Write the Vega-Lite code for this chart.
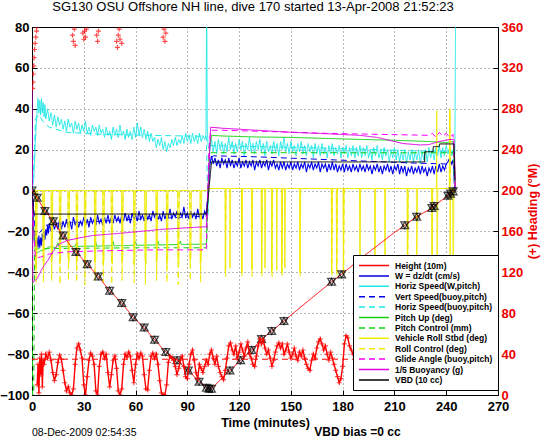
{
"$schema":"https://vega.github.io/schema/vega-lite/v6.json",
"width":466,"height":368,
"autosize":"none",
"padding":{"left":32,"top":27,"right":48,"bottom":47},
"background":"white",
"title":{"text":"SG130 OSU Offshore NH line, dive 170 started 13-Apr-2008 21:52:23","fontSize":13,"fontWeight":"normal","font":"Liberation Sans","offset":7,"dx":-12,"frame":"group","anchor":"middle","color":"black"},
"config":{
 "view":{"stroke":"black","strokeWidth":1},
 "font":"Liberation Sans",
 "axis":{"labelFont":"Liberation Sans","labelFontSize":13,"labelFontWeight":"bold","labelColor":"black","domainColor":"black","tickColor":"black","tickSize":-5,"gridColor":"black","gridDash":[1,3],"gridOpacity":0.7,"gridWidth":0.8,"titleFont":"Liberation Sans","titleFontSize":12.5,"titleFontWeight":"bold","titleColor":"black","labelOverlap":false,"labelFlush":false}
},
"datasets":{
"H":[{"t":0,"v":0},{"t":1,"v":-1},{"t":3,"v":-3.5},{"t":5,"v":-6.5},{"t":7.5,"v":-10},{"t":10,"v":-12.5},{"t":12.3,"v":-15},{"t":15,"v":-18.5},{"t":18,"v":-22},{"t":21,"v":-25.5},{"t":25.5,"v":-30},{"t":32,"v":-36},{"t":38.4,"v":-42},{"t":45,"v":-49},{"t":52,"v":-55},{"t":58.6,"v":-62},{"t":65,"v":-67},{"t":71,"v":-73},{"t":77.5,"v":-79},{"t":84,"v":-83},{"t":90.6,"v":-88},{"t":96.8,"v":-93.5},{"t":100,"v":-95.5},{"t":102,"v":-97},{"t":104,"v":-97},{"t":108,"v":-93.5},{"t":114.7,"v":-88},{"t":120.9,"v":-83},{"t":127.3,"v":-78},{"t":133,"v":-72.6},{"t":138.9,"v":-68.7},{"t":146,"v":-63.8},{"t":160,"v":-54},{"t":173.6,"v":-44.6},{"t":179.4,"v":-41},{"t":190,"v":-33.5},{"t":200,"v":-27},{"t":210,"v":-20.5},{"t":216,"v":-17},{"t":222.9,"v":-12.8},{"t":231.7,"v":-8.5},{"t":234,"v":-6.8},{"t":241,"v":-2.5},{"t":244.5,"v":0}],
"Hm":[{"t":0,"v":0},{"t":3,"v":-3.5},{"t":7.5,"v":-10},{"t":12.3,"v":-15},{"t":18,"v":-22},{"t":25.5,"v":-30},{"t":32,"v":-36},{"t":38.4,"v":-42},{"t":45,"v":-49},{"t":52,"v":-55},{"t":58.6,"v":-62},{"t":65,"v":-67},{"t":71,"v":-73},{"t":77.5,"v":-79},{"t":84,"v":-83},{"t":90.6,"v":-88},{"t":96.8,"v":-93.5},{"t":101,"v":-96.5},{"t":102.5,"v":-97},{"t":104,"v":-97},{"t":114.7,"v":-88},{"t":120.9,"v":-83},{"t":127.3,"v":-78},{"t":133,"v":-72.6},{"t":138.9,"v":-68.7},{"t":146,"v":-63.8},{"t":173.6,"v":-44.6},{"t":179.4,"v":-41},{"t":216,"v":-17},{"t":222.9,"v":-12.8},{"t":231.7,"v":-8.5},{"t":233,"v":-7.5},{"t":241,"v":-2.5},{"t":242.5,"v":-1.5},{"t":244,"v":-0.4}],
"W":[{"t":0,"v":0},{"t":0.5,"v":-4},{"t":1,"v":-20},{"t":1.5,"v":-27},{"t":2,"v":-24},{"t":2.5,"v":-29},{"t":3,"v":-23},{"t":3.5,"v":-28},{"t":4,"v":-22},{"t":4.5,"v":-28},{"t":5,"v":-23},{"t":5.5,"v":-27},{"t":6,"v":-21},{"t":6.5,"v":-25},{"t":7,"v":-20},{"t":7.5,"v":-24},{"t":8,"v":-19},{"t":8.5,"v":-22},{"t":9,"v":-17},{"t":9.5,"v":-21},{"t":10,"v":-16},{"t":11,"v":-20},{"t":12,"v":-15},{"t":13,"v":-19},{"t":14,"v":-16},{"t":15,"v":-19},{"t":16,"v":-14},{"t":17,"v":-19},{"t":18,"v":-15},{"t":19,"v":-18},{"t":20,"v":-14},{"t":21,"v":-18},{"t":22,"v":-15},{"t":23,"v":-19},{"t":24,"v":-13},{"t":25,"v":-17},{"t":26,"v":-14},{"t":27,"v":-18},{"t":28,"v":-15},{"t":29,"v":-17},{"t":30,"v":-13},{"t":31,"v":-17},{"t":32,"v":-14},{"t":33,"v":-18},{"t":34,"v":-13},{"t":35,"v":-16},{"t":36,"v":-14},{"t":37,"v":-17},{"t":38,"v":-12},{"t":39,"v":-16},{"t":40,"v":-14},{"t":41,"v":-17},{"t":42,"v":-13},{"t":43,"v":-16},{"t":44,"v":-12},{"t":45,"v":-16},{"t":46,"v":-13},{"t":47,"v":-16},{"t":48,"v":-12},{"t":49,"v":-15},{"t":50,"v":-13},{"t":51,"v":-16},{"t":52,"v":-12},{"t":53,"v":-15},{"t":54,"v":-11},{"t":55,"v":-15},{"t":56,"v":-12},{"t":57,"v":-16},{"t":58,"v":-11},{"t":59,"v":-14},{"t":60,"v":-12},{"t":61,"v":-15},{"t":62,"v":-10},{"t":63,"v":-14},{"t":64,"v":-12},{"t":65,"v":-15},{"t":66,"v":-11},{"t":67,"v":-14},{"t":68,"v":-12},{"t":69,"v":-15},{"t":70,"v":-10},{"t":71,"v":-13},{"t":72,"v":-11},{"t":73,"v":-14},{"t":74,"v":-12},{"t":75,"v":-15},{"t":76,"v":-10},{"t":77,"v":-14},{"t":78,"v":-11},{"t":79,"v":-13},{"t":80,"v":-9},{"t":81,"v":-14},{"t":82,"v":-11},{"t":83,"v":-13},{"t":84,"v":-10},{"t":85,"v":-14},{"t":86,"v":-11},{"t":87,"v":-13},{"t":88,"v":-8},{"t":89,"v":-13},{"t":90,"v":-11},{"t":91,"v":-14},{"t":92,"v":-10},{"t":93,"v":-13},{"t":94,"v":-11},{"t":95,"v":-14},{"t":96,"v":-9},{"t":97,"v":-13},{"t":98,"v":-11},{"t":99,"v":-14},{"t":100,"v":-10},{"t":101,"v":-12},{"t":102,"v":-2},{"t":103,"v":12},{"t":104,"v":17},{"t":105,"v":13},{"t":106,"v":16},{"t":107,"v":12},{"t":108,"v":15},{"t":109,"v":11},{"t":110,"v":16},{"t":111,"v":13},{"t":112,"v":15},{"t":113,"v":11},{"t":114,"v":16},{"t":115,"v":12},{"t":116,"v":15},{"t":117,"v":11},{"t":118,"v":14},{"t":119,"v":12},{"t":120,"v":16},{"t":121,"v":11},{"t":122,"v":14},{"t":123,"v":12},{"t":124,"v":15},{"t":125,"v":11},{"t":126,"v":14},{"t":127,"v":12},{"t":128,"v":15},{"t":129,"v":10},{"t":130,"v":14},{"t":131,"v":12},{"t":132,"v":15},{"t":133,"v":11},{"t":134,"v":14},{"t":135,"v":12},{"t":136,"v":15},{"t":137,"v":10},{"t":138,"v":14},{"t":139,"v":12},{"t":140,"v":15},{"t":141,"v":11},{"t":142,"v":13},{"t":143,"v":10},{"t":144,"v":14},{"t":145,"v":11},{"t":146,"v":14},{"t":147,"v":10},{"t":148,"v":13},{"t":149,"v":11},{"t":150,"v":14},{"t":151,"v":10},{"t":152,"v":13},{"t":153,"v":11},{"t":154,"v":14},{"t":155,"v":10},{"t":156,"v":13},{"t":157,"v":11},{"t":158,"v":14},{"t":159,"v":9},{"t":160,"v":13},{"t":161,"v":11},{"t":162,"v":14},{"t":163,"v":10},{"t":164,"v":13},{"t":165,"v":11},{"t":166,"v":14},{"t":167,"v":9},{"t":168,"v":13},{"t":169,"v":11},{"t":170,"v":13},{"t":171,"v":9},{"t":172,"v":13},{"t":173,"v":10},{"t":174,"v":14},{"t":175,"v":10},{"t":176,"v":13},{"t":177,"v":9},{"t":178,"v":12},{"t":179,"v":10},{"t":180,"v":13},{"t":181,"v":9},{"t":182,"v":13},{"t":183,"v":10},{"t":184,"v":12},{"t":185,"v":9},{"t":186,"v":13},{"t":187,"v":10},{"t":188,"v":12},{"t":189,"v":9},{"t":190,"v":13},{"t":191,"v":10},{"t":192,"v":12},{"t":193,"v":9},{"t":194,"v":13},{"t":195,"v":10},{"t":196,"v":12},{"t":197,"v":8},{"t":198,"v":12},{"t":199,"v":10},{"t":200,"v":13},{"t":201,"v":9},{"t":202,"v":12},{"t":203,"v":8},{"t":204,"v":12},{"t":205,"v":10},{"t":206,"v":13},{"t":207,"v":9},{"t":208,"v":12},{"t":209,"v":8},{"t":210,"v":12},{"t":211,"v":10},{"t":212,"v":13},{"t":213,"v":8},{"t":214,"v":12},{"t":215,"v":9},{"t":216,"v":12},{"t":217,"v":7},{"t":218,"v":11},{"t":219,"v":9},{"t":220,"v":12},{"t":221,"v":8},{"t":222,"v":11},{"t":223,"v":9},{"t":224,"v":12},{"t":225,"v":8},{"t":226,"v":12},{"t":227,"v":9},{"t":228,"v":11},{"t":229,"v":7},{"t":230,"v":11},{"t":231,"v":9},{"t":232,"v":12},{"t":233,"v":8},{"t":234,"v":12},{"t":235,"v":9},{"t":236,"v":13},{"t":237,"v":9},{"t":238,"v":12},{"t":239,"v":10},{"t":240,"v":13},{"t":241,"v":14},{"t":242,"v":16},{"t":243,"v":13},{"t":244,"v":15},{"t":245,"v":0}],
"HS":[{"t":0,"v":0},{"t":1,"v":5},{"t":2,"v":25},{"t":3,"v":40},{"t":3.5,"v":45},{"t":4,"v":38},{"t":4.5,"v":44},{"t":5,"v":37},{"t":5.5,"v":45},{"t":6,"v":38},{"t":6.5,"v":43},{"t":7,"v":36},{"t":7.5,"v":42},{"t":8,"v":35},{"t":9,"v":40},{"t":10,"v":34},{"t":11,"v":38},{"t":12,"v":32},{"t":13,"v":37},{"t":14,"v":31},{"t":15,"v":36},{"t":16,"v":32},{"t":17,"v":35},{"t":18,"v":30},{"t":19,"v":34},{"t":20,"v":29},{"t":21,"v":35},{"t":22,"v":31},{"t":23,"v":33},{"t":24,"v":28},{"t":25,"v":34},{"t":26,"v":30},{"t":27,"v":33},{"t":28,"v":28},{"t":29,"v":32},{"t":30,"v":29},{"t":31,"v":34},{"t":32,"v":28},{"t":33,"v":31},{"t":34,"v":27},{"t":35,"v":32},{"t":36,"v":29},{"t":37,"v":31},{"t":38,"v":27},{"t":39,"v":32},{"t":40,"v":28},{"t":41,"v":30},{"t":42,"v":26},{"t":43,"v":31},{"t":44,"v":27},{"t":45,"v":29},{"t":46,"v":25},{"t":47,"v":31},{"t":48,"v":27},{"t":49,"v":30},{"t":50,"v":26},{"t":51,"v":32},{"t":52,"v":27},{"t":53,"v":29},{"t":54,"v":25},{"t":55,"v":30},{"t":56,"v":26},{"t":57,"v":29},{"t":58,"v":25},{"t":59,"v":31},{"t":60,"v":26},{"t":61,"v":33},{"t":62,"v":27},{"t":63,"v":31},{"t":64,"v":26},{"t":65,"v":30},{"t":66,"v":25},{"t":67,"v":29},{"t":68,"v":24},{"t":69,"v":28},{"t":70,"v":24},{"t":71,"v":26},{"t":72,"v":21},{"t":73,"v":25},{"t":74,"v":22},{"t":75,"v":26},{"t":76,"v":20},{"t":77,"v":24},{"t":78,"v":19},{"t":79,"v":23},{"t":80,"v":21},{"t":81,"v":25},{"t":82,"v":22},{"t":83,"v":26},{"t":84,"v":22},{"t":85,"v":25},{"t":86,"v":23},{"t":87,"v":27},{"t":88,"v":23},{"t":89,"v":28},{"t":90,"v":24},{"t":91,"v":27},{"t":92,"v":23},{"t":93,"v":28},{"t":94,"v":24},{"t":95,"v":27},{"t":96,"v":23},{"t":97,"v":28},{"t":98,"v":24},{"t":99,"v":27},{"t":100,"v":25},{"t":100.8,"v":27},{"t":101.2,"v":95},{"t":101.6,"v":30},{"t":102,"v":22},{"t":103,"v":20},{"t":104,"v":25},{"t":105,"v":19},{"t":106,"v":24},{"t":107,"v":18},{"t":108,"v":25},{"t":109,"v":20},{"t":110,"v":24},{"t":111,"v":18},{"t":112,"v":23},{"t":113,"v":19},{"t":114,"v":26},{"t":115,"v":20},{"t":116,"v":24},{"t":117,"v":18},{"t":118,"v":23},{"t":119,"v":19},{"t":120,"v":25},{"t":121,"v":20},{"t":122,"v":24},{"t":123,"v":17},{"t":124,"v":23},{"t":125,"v":20},{"t":126,"v":26},{"t":127,"v":19},{"t":128,"v":23},{"t":129,"v":18},{"t":130,"v":24},{"t":131,"v":20},{"t":132,"v":25},{"t":133,"v":19},{"t":134,"v":23},{"t":135,"v":17},{"t":136,"v":24},{"t":137,"v":19},{"t":138,"v":22},{"t":139,"v":18},{"t":140,"v":24},{"t":141,"v":19},{"t":142,"v":23},{"t":143,"v":17},{"t":144,"v":24},{"t":145,"v":20},{"t":146,"v":26},{"t":147,"v":19},{"t":148,"v":23},{"t":149,"v":18},{"t":150,"v":24},{"t":151,"v":19},{"t":152,"v":22},{"t":153,"v":17},{"t":154,"v":23},{"t":155,"v":19},{"t":156,"v":24},{"t":157,"v":18},{"t":158,"v":22},{"t":159,"v":17},{"t":160,"v":23},{"t":161,"v":19},{"t":162,"v":22},{"t":163,"v":16},{"t":164,"v":23},{"t":165,"v":18},{"t":166,"v":22},{"t":167,"v":17},{"t":168,"v":23},{"t":169,"v":18},{"t":170,"v":21},{"t":171,"v":16},{"t":172,"v":22},{"t":173,"v":18},{"t":174,"v":23},{"t":175,"v":17},{"t":176,"v":21},{"t":177,"v":18},{"t":178,"v":22},{"t":179,"v":16},{"t":180,"v":21},{"t":181,"v":18},{"t":182,"v":22},{"t":183,"v":16},{"t":184,"v":21},{"t":185,"v":17},{"t":186,"v":22},{"t":187,"v":16},{"t":188,"v":21},{"t":189,"v":17},{"t":190,"v":22},{"t":191,"v":16},{"t":192,"v":21},{"t":193,"v":17},{"t":194,"v":22},{"t":195,"v":16},{"t":196,"v":20},{"t":197,"v":15},{"t":198,"v":21},{"t":199,"v":17},{"t":200,"v":22},{"t":201,"v":16},{"t":202,"v":20},{"t":203,"v":15},{"t":204,"v":21},{"t":205,"v":17},{"t":206,"v":20},{"t":207,"v":14},{"t":208,"v":20},{"t":209,"v":16},{"t":210,"v":21},{"t":211,"v":15},{"t":212,"v":20},{"t":213,"v":14},{"t":214,"v":19},{"t":215,"v":15},{"t":216,"v":20},{"t":217,"v":13},{"t":218,"v":19},{"t":219,"v":15},{"t":220,"v":20},{"t":221,"v":14},{"t":222,"v":19},{"t":223,"v":15},{"t":224,"v":20},{"t":225,"v":13},{"t":226,"v":19},{"t":227,"v":15},{"t":228,"v":20},{"t":229,"v":14},{"t":230,"v":21},{"t":231,"v":16},{"t":232,"v":20},{"t":233,"v":15},{"t":234,"v":21},{"t":235,"v":17},{"t":236,"v":22},{"t":237,"v":16},{"t":238,"v":21},{"t":239,"v":17},{"t":240,"v":22},{"t":241,"v":18},{"t":242,"v":21},{"t":243,"v":17},{"t":244,"v":20},{"t":245,"v":18},{"t":245.5,"v":95}],
"VSb":[{"t":0,"v":0},{"t":1,"v":-8},{"t":2,"v":-22},{"t":4,"v":-21},{"t":8,"v":-17},{"t":15,"v":-16},{"t":30,"v":-15.5},{"t":60,"v":-14},{"t":90,"v":-13},{"t":101,"v":-12.5},{"t":102,"v":0},{"t":103,"v":15},{"t":105,"v":17},{"t":130,"v":16.5},{"t":160,"v":15.5},{"t":190,"v":14.5},{"t":220,"v":13.5},{"t":240,"v":13},{"t":244,"v":14},{"t":245,"v":0}],
"HSb":[{"t":0,"v":0},{"t":1,"v":10},{"t":2,"v":35},{"t":4,"v":37},{"t":7,"v":33},{"t":10,"v":31},{"t":20,"v":28.5},{"t":40,"v":27.5},{"t":70,"v":27},{"t":101,"v":26.5},{"t":102,"v":-12},{"t":103,"v":22},{"t":130,"v":21.5},{"t":160,"v":21},{"t":200,"v":20},{"t":240,"v":19},{"t":244,"v":19},{"t":245,"v":0}],
"P":[{"t":0,"v":0},{"t":1,"v":-20},{"t":2,"v":-31},{"t":3,"v":-30.5},{"t":5,"v":-29.5},{"t":8,"v":-28.5},{"t":10,"v":-27.5},{"t":14,"v":-27.8},{"t":15,"v":-25.5},{"t":15.5,"v":-27.5},{"t":25,"v":-27.3},{"t":26,"v":-25.5},{"t":26.5,"v":-27.3},{"t":36,"v":-27.2},{"t":37,"v":-25.3},{"t":37.5,"v":-27.2},{"t":46,"v":-27},{"t":47,"v":-25},{"t":47.5,"v":-27},{"t":59,"v":-26.8},{"t":60,"v":-25},{"t":60.5,"v":-26.8},{"t":72,"v":-26.6},{"t":73,"v":-24.8},{"t":73.5,"v":-26.6},{"t":85,"v":-26.4},{"t":86,"v":-24.8},{"t":86.5,"v":-26.4},{"t":101,"v":-26.2},{"t":102,"v":0},{"t":103,"v":22},{"t":104,"v":27},{"t":110,"v":26.7},{"t":130,"v":26.2},{"t":150,"v":26},{"t":170,"v":25.5},{"t":190,"v":25},{"t":210,"v":24.6},{"t":230,"v":24},{"t":240,"v":23.5},{"t":244,"v":24},{"t":245,"v":10},{"t":245.5,"v":0}],
"PC":[{"t":0,"v":0},{"t":0.3,"v":-100},{"t":1,"v":-100},{"t":1.5,"v":-29},{"t":3,"v":-28.5},{"t":20,"v":-28.3},{"t":60,"v":-28},{"t":101.2,"v":-28},{"t":102.5,"v":18.5},{"t":150,"v":18.5},{"t":200,"v":18.5},{"t":244,"v":18.5},{"t":245,"v":0}],
"R":[{"t":0,"v":0},{"t":2,"v":0},{"t":2.2,"v":-38},{"t":2.8,"v":-32},{"t":3,"v":0},{"t":6.2,"v":0},{"t":6.4,"v":-34},{"t":7,"v":-36},{"t":7.2,"v":0},{"t":11,"v":0},{"t":11.2,"v":-35},{"t":11.8,"v":-33},{"t":12,"v":0},{"t":15.8,"v":0},{"t":16,"v":-36},{"t":16.6,"v":-34},{"t":16.8,"v":0},{"t":20.7,"v":0},{"t":20.9,"v":-33},{"t":21.5,"v":-35},{"t":21.7,"v":0},{"t":25.5,"v":0},{"t":25.7,"v":-36},{"t":26.3,"v":-34},{"t":26.5,"v":0},{"t":30.3,"v":0},{"t":30.5,"v":-34},{"t":31.1,"v":-36},{"t":31.3,"v":0},{"t":36.1,"v":0},{"t":36.3,"v":-35},{"t":36.9,"v":-33},{"t":37.1,"v":0},{"t":40.9,"v":0},{"t":41.1,"v":-36},{"t":41.7,"v":-34},{"t":41.9,"v":0},{"t":45.8,"v":0},{"t":46,"v":-34},{"t":46.6,"v":-36},{"t":46.8,"v":0},{"t":51.8,"v":0},{"t":52,"v":-35},{"t":52.6,"v":-33},{"t":52.8,"v":0},{"t":58.8,"v":0},{"t":59,"v":-36},{"t":59.6,"v":-34},{"t":59.8,"v":0},{"t":65.3,"v":0},{"t":65.5,"v":-34},{"t":66.1,"v":-36},{"t":66.3,"v":0},{"t":71.8,"v":0},{"t":72,"v":-35},{"t":72.6,"v":-33},{"t":72.8,"v":0},{"t":77.8,"v":0},{"t":78,"v":-36},{"t":78.6,"v":-34},{"t":78.8,"v":0},{"t":84.3,"v":0},{"t":84.5,"v":-34},{"t":85.1,"v":-36},{"t":85.3,"v":0},{"t":91.3,"v":0},{"t":91.5,"v":-35},{"t":92.1,"v":-33},{"t":92.3,"v":0},{"t":97.3,"v":0},{"t":97.5,"v":-36},{"t":98.1,"v":-34},{"t":98.3,"v":0},{"t":101.5,"v":0},{"t":103,"v":1},{"t":111.8,"v":1},{"t":112,"v":-40},{"t":112.4,"v":1},{"t":114.5,"v":1},{"t":114.7,"v":-38},{"t":115.1,"v":1},{"t":121.3,"v":1},{"t":121.5,"v":-40},{"t":121.9,"v":1},{"t":127.1,"v":1},{"t":127.3,"v":-39},{"t":127.7,"v":1},{"t":132.8,"v":1},{"t":133,"v":-40},{"t":133.4,"v":1},{"t":134.8,"v":1},{"t":135,"v":-38},{"t":135.4,"v":1},{"t":138.7,"v":1},{"t":138.9,"v":-40},{"t":139.3,"v":1},{"t":141.6,"v":1},{"t":141.8,"v":-39},{"t":142.2,"v":1},{"t":144.5,"v":1},{"t":144.7,"v":-40},{"t":145.1,"v":1},{"t":146.3,"v":1},{"t":146.5,"v":-38},{"t":146.9,"v":1},{"t":155,"v":1},{"t":155.2,"v":-40},{"t":155.6,"v":1},{"t":173.4,"v":1},{"t":173.6,"v":-40},{"t":174,"v":1},{"t":176.3,"v":1},{"t":176.5,"v":-39},{"t":176.9,"v":1},{"t":180.2,"v":1},{"t":180.4,"v":-40},{"t":180.8,"v":1},{"t":189.8,"v":1},{"t":190,"v":-45},{"t":190.4,"v":1},{"t":198.5,"v":1},{"t":198.7,"v":-45},{"t":199.1,"v":1},{"t":204.3,"v":1},{"t":204.5,"v":-45},{"t":204.9,"v":1},{"t":217.3,"v":1},{"t":217.5,"v":-50},{"t":217.9,"v":1},{"t":222.7,"v":1},{"t":222.9,"v":-50},{"t":223.3,"v":1},{"t":231.5,"v":1},{"t":231.7,"v":-50},{"t":232.1,"v":1},{"t":234.3,"v":1},{"t":234.5,"v":39},{"t":234.7,"v":-50},{"t":235.1,"v":1},{"t":241.8,"v":1},{"t":242,"v":39},{"t":242.2,"v":-50},{"t":242.6,"v":1},{"t":243.8,"v":1},{"t":244,"v":-60},{"t":244.4,"v":1},{"t":245,"v":0}],
"RC":[{"t":0,"v":0},{"t":2.3,"v":0},{"t":2.4,"v":-45},{"t":2.8,"v":0},{"t":6.5,"v":0},{"t":6.6,"v":-45},{"t":7,"v":0},{"t":11.3,"v":0},{"t":11.4,"v":-44},{"t":11.8,"v":0},{"t":16.1,"v":0},{"t":16.2,"v":-46},{"t":16.6,"v":0},{"t":21,"v":0},{"t":21.1,"v":-44},{"t":21.5,"v":0},{"t":25.8,"v":0},{"t":25.9,"v":-45},{"t":26.3,"v":0},{"t":30.6,"v":0},{"t":30.7,"v":-46},{"t":31.1,"v":0},{"t":36.4,"v":0},{"t":36.5,"v":-44},{"t":36.9,"v":0},{"t":41.2,"v":0},{"t":41.3,"v":-45},{"t":41.7,"v":0},{"t":46.1,"v":0},{"t":46.2,"v":-46},{"t":46.6,"v":0},{"t":52.1,"v":0},{"t":52.2,"v":-44},{"t":52.6,"v":0},{"t":59.1,"v":0},{"t":59.2,"v":-45},{"t":59.6,"v":0},{"t":65.6,"v":0},{"t":65.7,"v":-46},{"t":66.1,"v":0},{"t":72.1,"v":0},{"t":72.2,"v":-44},{"t":72.6,"v":0},{"t":78.1,"v":0},{"t":78.2,"v":-45},{"t":78.6,"v":0},{"t":84.6,"v":0},{"t":84.7,"v":-46},{"t":85.1,"v":0},{"t":91.6,"v":0},{"t":91.7,"v":-44},{"t":92.1,"v":0},{"t":97.6,"v":0},{"t":97.7,"v":-45},{"t":98.1,"v":0},{"t":101.5,"v":0},{"t":103,"v":1},{"t":112.1,"v":1},{"t":112.2,"v":-42},{"t":112.5,"v":1},{"t":121.6,"v":1},{"t":121.7,"v":-42},{"t":122,"v":1},{"t":127.4,"v":1},{"t":127.5,"v":-42},{"t":127.8,"v":1},{"t":133.1,"v":1},{"t":133.2,"v":-42},{"t":133.5,"v":1},{"t":139,"v":1},{"t":139.1,"v":-42},{"t":139.4,"v":1},{"t":144.8,"v":1},{"t":144.9,"v":-42},{"t":145.2,"v":1},{"t":155.3,"v":1},{"t":155.4,"v":-42},{"t":155.7,"v":1},{"t":173.7,"v":1},{"t":173.8,"v":-42},{"t":174.1,"v":1},{"t":176.6,"v":1},{"t":176.7,"v":-42},{"t":177,"v":1},{"t":180.5,"v":1},{"t":180.6,"v":-42},{"t":180.9,"v":1},{"t":217.6,"v":1},{"t":217.7,"v":-48},{"t":218,"v":1},{"t":231.8,"v":1},{"t":231.9,"v":-48},{"t":232.2,"v":1},{"t":242.1,"v":1},{"t":242.2,"v":40},{"t":242.5,"v":1},{"t":245,"v":0}],
"G":[{"t":0,"v":0},{"t":1,"v":-20},{"t":2,"v":-33},{"t":5,"v":-32.5},{"t":10,"v":-31},{"t":20,"v":-30},{"t":40,"v":-29.5},{"t":70,"v":-29},{"t":101,"v":-29},{"t":102.5,"v":20},{"t":103.5,"v":29.5},{"t":110,"v":29.5},{"t":140,"v":28.8},{"t":170,"v":28},{"t":200,"v":27.5},{"t":220,"v":27.2},{"t":230,"v":27},{"t":232,"v":28},{"t":234,"v":26},{"t":236,"v":28.5},{"t":238,"v":26.5},{"t":240,"v":28},{"t":242,"v":26},{"t":244,"v":27.5},{"t":245,"v":2}],
"B":[{"t":0,"v":52},{"t":0.5,"v":-45},{"t":3,"v":-43},{"t":6,"v":-38},{"t":9.3,"v":-34},{"t":12,"v":-30},{"t":15,"v":-26.6},{"t":20,"v":-24.5},{"t":26.6,"v":-23.3},{"t":35,"v":-22},{"t":49.8,"v":-21},{"t":60,"v":-20.2},{"t":75,"v":-19},{"t":90,"v":-18.2},{"t":101,"v":-17.7},{"t":102,"v":0},{"t":103.5,"v":31},{"t":110,"v":30.5},{"t":130,"v":29.5},{"t":150,"v":28.5},{"t":170,"v":27.8},{"t":190,"v":27},{"t":200,"v":26},{"t":205,"v":25},{"t":215,"v":23},{"t":225,"v":22.3},{"t":230,"v":22.5},{"t":236,"v":24},{"t":242,"v":25},{"t":244.5,"v":25},{"t":245.5,"v":0}],
"V":[{"t":0,"v":0},{"t":1,"v":-11.5},{"t":101.2,"v":-11.5},{"t":104,"v":14},{"t":227.5,"v":14},{"t":227.6,"v":19},{"t":232.4,"v":19},{"t":232.5,"v":21.5},{"t":236,"v":21.5},{"t":236.1,"v":22.8},{"t":244.5,"v":22.8},{"t":245,"v":5}],
"hd":[{"t":3,"h":10},{"t":3.5,"h":30},{"t":4,"h":2},{"t":4.5,"h":36},{"t":5,"h":20},{"t":5.5,"h":40},{"t":6,"h":8},{"t":6.5,"h":34},{"t":7,"h":30},{"t":8,"h":40},{"t":9,"h":36},{"t":10,"h":42},{"t":11,"h":34},{"t":12,"h":22},{"t":13,"h":14},{"t":14,"h":20},{"t":15,"h":32},{"t":16,"h":39},{"t":17,"h":35},{"t":18,"h":24},{"t":19,"h":12},{"t":20,"h":4},{"t":21,"h":8},{"t":22,"h":2},{"t":23,"h":0},{"t":24,"h":6},{"t":25,"h":30},{"t":26,"h":46},{"t":27,"h":50},{"t":28,"h":44},{"t":29,"h":36},{"t":30,"h":10},{"t":31,"h":0},{"t":32,"h":18},{"t":33,"h":34},{"t":34,"h":41},{"t":35,"h":38},{"t":36,"h":30},{"t":37,"h":4},{"t":38,"h":0},{"t":39,"h":28},{"t":40,"h":40},{"t":41,"h":42},{"t":42,"h":36},{"t":43,"h":40},{"t":44,"h":22},{"t":45,"h":8},{"t":46,"h":20},{"t":47,"h":34},{"t":48,"h":38},{"t":49,"h":26},{"t":50,"h":4},{"t":51,"h":0},{"t":52,"h":6},{"t":53,"h":30},{"t":54,"h":40},{"t":55,"h":37},{"t":56,"h":42},{"t":57,"h":38},{"t":58,"h":24},{"t":59,"h":12},{"t":60,"h":30},{"t":61,"h":40},{"t":62,"h":36},{"t":63,"h":41},{"t":64,"h":38},{"t":65,"h":20},{"t":66,"h":6},{"t":67,"h":5},{"t":68,"h":24},{"t":69,"h":38},{"t":70,"h":41},{"t":71,"h":36},{"t":72,"h":40},{"t":73,"h":30},{"t":74,"h":14},{"t":75,"h":2},{"t":76,"h":0},{"t":77,"h":0},{"t":78,"h":10},{"t":79,"h":32},{"t":80,"h":38},{"t":81,"h":36},{"t":82,"h":34},{"t":83,"h":28},{"t":84,"h":20},{"t":85,"h":26},{"t":86,"h":34},{"t":87,"h":38},{"t":88,"h":28},{"t":89,"h":18},{"t":90,"h":16},{"t":91,"h":30},{"t":92,"h":40},{"t":93,"h":44},{"t":94,"h":34},{"t":95,"h":22},{"t":96,"h":16},{"t":97,"h":30},{"t":98,"h":26},{"t":99,"h":22},{"t":100,"h":28},{"t":101,"h":34},{"t":102,"h":30},{"t":103,"h":40},{"t":104,"h":44},{"t":105,"h":36},{"t":106,"h":30},{"t":107,"h":38},{"t":108,"h":28},{"t":109,"h":22},{"t":110,"h":18},{"t":111,"h":15},{"t":112,"h":24},{"t":113,"h":36},{"t":114,"h":48},{"t":115,"h":51},{"t":116,"h":44},{"t":117,"h":40},{"t":118,"h":48},{"t":119,"h":36},{"t":120,"h":42},{"t":121,"h":50},{"t":122,"h":44},{"t":123,"h":38},{"t":124,"h":46},{"t":125,"h":52},{"t":126,"h":40},{"t":127,"h":36},{"t":128,"h":30},{"t":129,"h":28},{"t":130,"h":38},{"t":131,"h":48},{"t":132,"h":55},{"t":133,"h":50},{"t":134,"h":54},{"t":135,"h":46},{"t":136,"h":40},{"t":137,"h":44},{"t":138,"h":36},{"t":139,"h":28},{"t":140,"h":34},{"t":141,"h":42},{"t":142,"h":48},{"t":143,"h":51},{"t":144,"h":46},{"t":145,"h":50},{"t":146,"h":40},{"t":147,"h":44},{"t":148,"h":50},{"t":149,"h":42},{"t":150,"h":36},{"t":151,"h":40},{"t":152,"h":46},{"t":153,"h":38},{"t":154,"h":34},{"t":155,"h":42},{"t":156,"h":38},{"t":157,"h":44},{"t":158,"h":36},{"t":159,"h":30},{"t":160,"h":26},{"t":161,"h":24},{"t":162,"h":34},{"t":163,"h":40},{"t":164,"h":36},{"t":165,"h":46},{"t":166,"h":52},{"t":167,"h":55},{"t":168,"h":50},{"t":169,"h":44},{"t":170,"h":48},{"t":171,"h":40},{"t":172,"h":34},{"t":173,"h":42},{"t":174,"h":36},{"t":175,"h":30},{"t":176,"h":24},{"t":177,"h":18},{"t":178,"h":12},{"t":179,"h":16},{"t":180,"h":28},{"t":181,"h":50},{"t":182,"h":58},{"t":183,"h":56},{"t":184,"h":48},{"t":185,"h":44},{"t":186,"h":40},{"t":188,"h":46},{"t":190,"h":38},{"t":192,"h":44},{"t":194,"h":36},{"t":196,"h":40},{"t":198,"h":34},{"t":200,"h":42},{"t":203,"h":38},{"t":206,"h":44},{"t":209,"h":36},{"t":212,"h":40},{"t":215,"h":34},{"t":218,"h":42},{"t":221,"h":38},{"t":224,"h":44},{"t":227,"h":36},{"t":230,"h":40},{"t":233,"h":46},{"t":236,"h":38},{"t":239,"h":42},{"t":242,"h":36},{"t":245,"h":40}],
"hw":[{"t":0.4,"h":300},{"t":0.6,"h":306},{"t":0.8,"h":314},{"t":1,"h":322},{"t":1.2,"h":330},{"t":1.5,"h":338},{"t":1.8,"h":344},{"t":2.2,"h":350},{"t":2.6,"h":356},{"t":2.8,"h":360},{"t":23.5,"h":352},{"t":24,"h":346},{"t":24.5,"h":358},{"t":25,"h":342},{"t":29.5,"h":354},{"t":30,"h":348},{"t":30.5,"h":356},{"t":31,"h":350},{"t":31.5,"h":358},{"t":37.5,"h":352},{"t":38,"h":346},{"t":38.5,"h":356},{"t":49,"h":346},{"t":49.5,"h":340},{"t":50,"h":352},{"t":50.5,"h":358},{"t":51,"h":348},{"t":52,"h":344},{"t":76,"h":350},{"t":76.5,"h":358},{"t":77,"h":346},{"t":77.5,"h":354}]
},
"layer":[
 {"layer":[
  {"data":{"name":"W"},"mark":{"type":"line","strokeWidth":1.1,"clip":true},
   "encoding":{
    "x":{"field":"t","type":"quantitative","scale":{"domain":[0,270],"nice":false,"zero":false},"axis":{"values":[0,30,60,90,120,150,180,210,240,270],"title":"Time (minutes)","grid":true,"labelPadding":10,"titlePadding":3}},
    "y":{"field":"v","type":"quantitative","scale":{"domain":[-100,80],"nice":false,"zero":false},"axis":{"values":[-100,-90,-80,-70,-60,-50,-40,-30,-20,-10,0,10,20,30,40,50,60,70,80],"title":null,"grid":true,"labelPadding":8}},
    "color":{"datum":"W = dz/dt (cm/s)","type":"nominal","scale":{"domain":["Height (10m)","W = dz/dt (cm/s)","Horiz Speed(W,pitch)","Vert Speed(buoy,pitch)","Horiz Speed(buoy,pitch)","Pitch Up (deg)","Pitch Control (mm)","Vehicle Roll Stbd (deg)","Roll Control (deg)","Glide Angle (buoy,pitch)","1/5 Buoyancy (g)","VBD (10 cc)"],"range":["#ff0000","#0000e6","#1ee8e8","#0000e6","#1ee8e8","#10d010","#10d010","#f0ea00","#f0ea00","#ff00ff","#e000e0","#000000"]},
     "legend":{"title":null,"orient":"none","legendX":321,"legendY":228,"symbolType":"M-1,0H5.667","symbolSize":81,"symbolStrokeWidth":1.5,"labelFontSize":8.5,"labelFontWeight":"bold","labelFont":"Liberation Sans","labelColor":"black","labelOffset":26,"rowPadding":0.4,"padding":5,"strokeColor":"black","fillColor":"white","labelLimit":300,"zindex":1}},
    "strokeDash":{"datum":"W = dz/dt (cm/s)","type":"nominal","scale":{"domain":["Height (10m)","W = dz/dt (cm/s)","Horiz Speed(W,pitch)","Vert Speed(buoy,pitch)","Horiz Speed(buoy,pitch)","Pitch Up (deg)","Pitch Control (mm)","Vehicle Roll Stbd (deg)","Roll Control (deg)","Glide Angle (buoy,pitch)","1/5 Buoyancy (g)","VBD (10 cc)"],"range":[[1,0],[1,0],[1,0],[6,4],[6,4],[1,0],[6,4],[1,0],[6,4],[6,4],[1,0],[1,0]]},
     "legend":{"title":null,"orient":"none","legendX":321,"legendY":228,"symbolType":"M-1,0H5.667","symbolSize":81,"symbolStrokeWidth":1.5,"labelFontSize":8.5,"labelFontWeight":"bold","labelFont":"Liberation Sans","labelColor":"black","labelOffset":26,"rowPadding":0.4,"padding":5,"strokeColor":"black","fillColor":"white","labelLimit":300,"zindex":1}}
   }},
  {"data":{"name":"HS"},"mark":{"type":"line","strokeWidth":1,"clip":true},"encoding":{"x":{"field":"t","type":"quantitative"},"y":{"field":"v","type":"quantitative"},"color":{"datum":"Horiz Speed(W,pitch)"},"strokeDash":{"datum":"Horiz Speed(W,pitch)"}}},
  {"data":{"name":"VSb"},"mark":{"type":"line","strokeWidth":1,"clip":true},"encoding":{"x":{"field":"t","type":"quantitative"},"y":{"field":"v","type":"quantitative"},"color":{"datum":"Vert Speed(buoy,pitch)"},"strokeDash":{"datum":"Vert Speed(buoy,pitch)"}}},
  {"data":{"name":"HSb"},"mark":{"type":"line","strokeWidth":1,"clip":true},"encoding":{"x":{"field":"t","type":"quantitative"},"y":{"field":"v","type":"quantitative"},"color":{"datum":"Horiz Speed(buoy,pitch)"},"strokeDash":{"datum":"Horiz Speed(buoy,pitch)"}}},
  {"data":{"name":"P"},"mark":{"type":"line","strokeWidth":1,"clip":true},"encoding":{"x":{"field":"t","type":"quantitative"},"y":{"field":"v","type":"quantitative"},"color":{"datum":"Pitch Up (deg)"},"strokeDash":{"datum":"Pitch Up (deg)"}}},
  {"data":{"name":"PC"},"mark":{"type":"line","strokeWidth":1,"clip":true},"encoding":{"x":{"field":"t","type":"quantitative"},"y":{"field":"v","type":"quantitative"},"color":{"datum":"Pitch Control (mm)"},"strokeDash":{"datum":"Pitch Control (mm)"}}},
  {"data":{"name":"R"},"mark":{"type":"line","strokeWidth":1,"clip":true},"encoding":{"x":{"field":"t","type":"quantitative"},"y":{"field":"v","type":"quantitative"},"color":{"datum":"Vehicle Roll Stbd (deg)"},"strokeDash":{"datum":"Vehicle Roll Stbd (deg)"}}},
  {"data":{"name":"RC"},"mark":{"type":"line","strokeWidth":1,"clip":true},"encoding":{"x":{"field":"t","type":"quantitative"},"y":{"field":"v","type":"quantitative"},"color":{"datum":"Roll Control (deg)"},"strokeDash":{"datum":"Roll Control (deg)"}}},
  {"data":{"name":"G"},"mark":{"type":"line","strokeWidth":1,"clip":true},"encoding":{"x":{"field":"t","type":"quantitative"},"y":{"field":"v","type":"quantitative"},"color":{"datum":"Glide Angle (buoy,pitch)"},"strokeDash":{"datum":"Glide Angle (buoy,pitch)"}}},
  {"data":{"name":"B"},"mark":{"type":"line","strokeWidth":1,"clip":true},"encoding":{"x":{"field":"t","type":"quantitative"},"y":{"field":"v","type":"quantitative"},"color":{"datum":"1/5 Buoyancy (g)"},"strokeDash":{"datum":"1/5 Buoyancy (g)"}}},
  {"data":{"name":"V"},"mark":{"type":"line","strokeWidth":1,"clip":true},"encoding":{"x":{"field":"t","type":"quantitative"},"y":{"field":"v","type":"quantitative"},"color":{"datum":"VBD (10 cc)"},"strokeDash":{"datum":"VBD (10 cc)"}}},
  {"data":{"name":"H"},"mark":{"type":"line","strokeWidth":1,"clip":true},"encoding":{"x":{"field":"t","type":"quantitative"},"y":{"field":"v","type":"quantitative"},"color":{"datum":"Height (10m)"},"strokeDash":{"datum":"Height (10m)"}}},
  {"data":{"name":"Hm"},"mark":{"type":"point","shape":"triangle-up","filled":false,"stroke":"black","strokeWidth":1.3,"size":60,"clip":true},"encoding":{"x":{"field":"t","type":"quantitative"},"y":{"field":"v","type":"quantitative"}}},
  {"data":{"name":"Hm"},"mark":{"type":"point","shape":"triangle-down","filled":false,"stroke":"black","strokeWidth":1.3,"size":60,"clip":true},"encoding":{"x":{"field":"t","type":"quantitative"},"y":{"field":"v","type":"quantitative"}}},
  {"data":{"values":[{}]},"mark":{"type":"text","align":"left","baseline":"middle","fontSize":10.5,"font":"Liberation Sans","color":"black"},"encoding":{"x":{"datum":0},"y":{"datum":-118.6},"text":{"value":"08-Dec-2009 02:54:35"}}},
  {"data":{"values":[{}]},"mark":{"type":"text","align":"center","baseline":"middle","fontSize":12,"fontWeight":"bold","font":"Liberation Sans","color":"black"},"encoding":{"x":{"datum":188.6},"y":{"datum":-118},"text":{"value":"VBD bias =0 cc"}}}
 ]},
 {"layer":[
  {"data":{"name":"hd"},"mark":{"type":"line","strokeWidth":1.4,"color":"#ff0000","clip":true},"encoding":{"x":{"field":"t","type":"quantitative"},"y":{"field":"h","type":"quantitative","scale":{"domain":[0,360],"nice":false,"zero":false},"axis":{"orient":"right","values":[0,20,40,60,80,100,120,140,160,180,200,220,240,260,280,300,320,340,360],"title":"(+) Heading (°M)","labelColor":"#ee0000","titleColor":"#ee0000","grid":false,"labelPadding":8,"titlePadding":4,"titleAngle":270,"titleBaseline":"top"}}}},
  {"data":{"name":"hd"},"mark":{"type":"point","shape":"M-1,0H1M0,-1V1","filled":false,"stroke":"#ff0000","strokeWidth":1.2,"size":25,"clip":true},"encoding":{"x":{"field":"t","type":"quantitative"},"y":{"field":"h","type":"quantitative"}}},
  {"data":{"name":"hw"},"mark":{"type":"point","shape":"M-1,0H1M0,-1V1","filled":false,"stroke":"#ff0000","strokeWidth":1.2,"size":25,"clip":true},"encoding":{"x":{"field":"t","type":"quantitative"},"y":{"field":"h","type":"quantitative"}}},
  {"data":{"values":[{}]},"mark":{"type":"rule","color":"#ff0000","strokeDash":[6,4],"strokeWidth":1},"encoding":{"y":{"datum":35}}}
 ]}
],
"resolve":{"scale":{"y":"independent"}}
}
